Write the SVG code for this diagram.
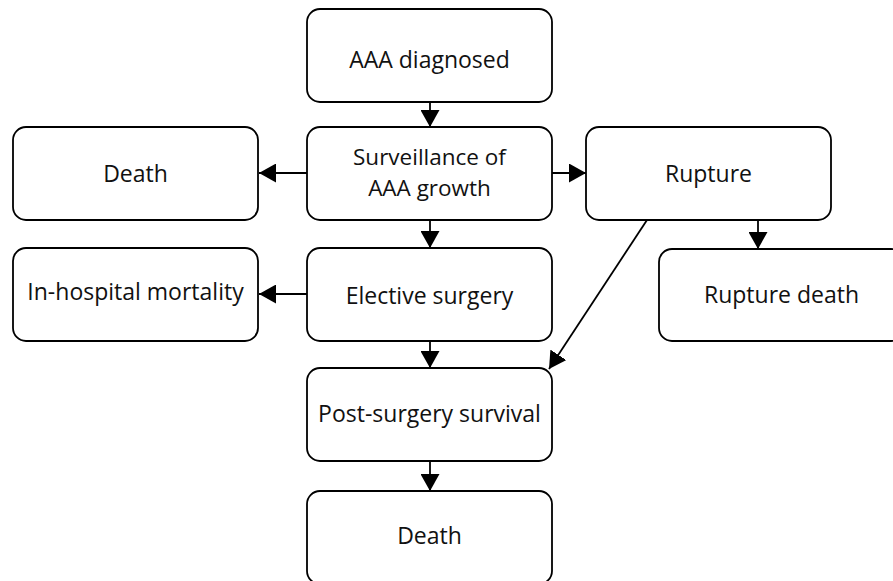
<svg xmlns="http://www.w3.org/2000/svg" width="893" height="581" viewBox="0 0 893 581">
  <style>
    .box { fill: #ffffff; stroke: #000000; stroke-width: 1.8; }
    .label { font-family: "Open Sans", "Noto Sans", "Liberation Sans", sans-serif; font-size: 23px; fill: #111111; text-anchor: middle; }
    .small { font-size: 22.5px; }
    .edge { fill: none; stroke: #000000; stroke-width: 1.8; }
  </style>
  <defs>
    <marker id="head" viewBox="0 0 17 19" refX="17" refY="9.5" markerWidth="17" markerHeight="19" markerUnits="userSpaceOnUse" orient="auto">
      <path d="M0,0 L17,9.5 L0,19 Z" fill="#000000"/>
    </marker>
  </defs>
  <rect width="893" height="581" fill="#ffffff"/>

  <g id="connectors">
    <line class="edge" x1="430" y1="102" x2="430" y2="127" marker-end="url(#head)"/>
    <line class="edge" x1="307" y1="173" x2="259" y2="173" marker-end="url(#head)"/>
    <line class="edge" x1="552" y1="173" x2="586" y2="173" marker-end="url(#head)"/>
    <line class="edge" x1="430" y1="220" x2="430" y2="248" marker-end="url(#head)"/>
    <line class="edge" x1="307" y1="294" x2="259" y2="294" marker-end="url(#head)"/>
    <line class="edge" x1="758" y1="220" x2="758" y2="249" marker-end="url(#head)"/>
    <line class="edge" x1="647" y1="220" x2="549" y2="369" marker-end="url(#head)"/>
    <line class="edge" x1="430" y1="341" x2="430" y2="368" marker-end="url(#head)"/>
    <line class="edge" x1="430" y1="461" x2="430" y2="491" marker-end="url(#head)"/>
  </g>

  <g id="aaa-diagnosed">
    <rect class="box" x="307" y="9" width="245" height="93" rx="13"/>
    <text class="label" x="429.5" y="68">AAA diagnosed</text>
  </g>
  <g id="surveillance">
    <rect class="box" x="307" y="127" width="245" height="93" rx="13"/>
    <text class="label small" x="429.5" y="165">Surveillance of</text>
    <text class="label small" x="429.5" y="196">AAA growth</text>
  </g>
  <g id="death-surveillance">
    <rect class="box" x="13" y="127" width="245" height="93" rx="13"/>
    <text class="label" x="135.5" y="182">Death</text>
  </g>
  <g id="rupture">
    <rect class="box" x="586" y="127" width="245" height="93" rx="13"/>
    <text class="label" x="708.5" y="182">Rupture</text>
  </g>
  <g id="elective-surgery">
    <rect class="box" x="307" y="248" width="245" height="93" rx="13"/>
    <text class="label" x="429.5" y="304">Elective surgery</text>
  </g>
  <g id="in-hospital-mortality">
    <rect class="box" x="13" y="248" width="245" height="93" rx="13"/>
    <text class="label" x="135.5" y="300">In-hospital mortality</text>
  </g>
  <g id="rupture-death">
    <rect class="box" x="659" y="249" width="245" height="92" rx="13"/>
    <text class="label" x="781.5" y="303">Rupture death</text>
  </g>
  <g id="post-surgery-survival">
    <rect class="box" x="307" y="368" width="245" height="93" rx="13"/>
    <text class="label" x="429.5" y="421.5">Post-surgery survival</text>
  </g>
  <g id="death-final">
    <rect class="box" x="307" y="491" width="245" height="93" rx="13"/>
    <text class="label" x="429.5" y="544">Death</text>
  </g>
</svg>
